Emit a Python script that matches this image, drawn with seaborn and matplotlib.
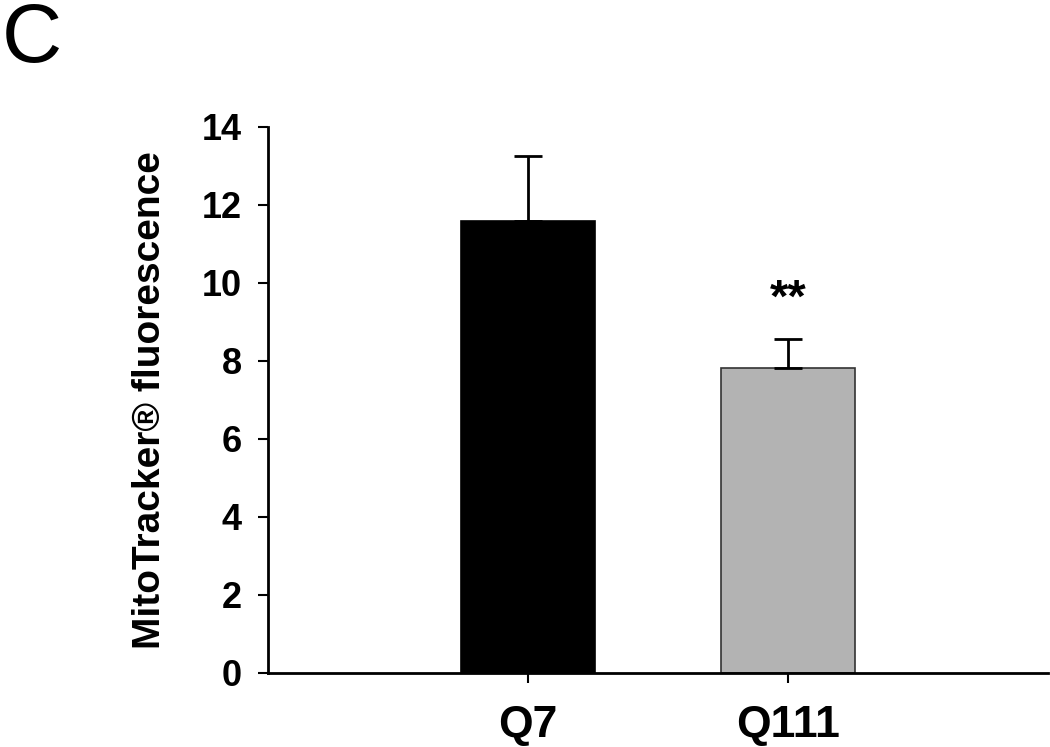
import matplotlib.pyplot as plt
import numpy as np
import pandas as pd
import seaborn as sns

# %% data

groups = ["Q7", "Q111"]
means = [11.6, 7.82]
sems = [1.66, 0.74]
bar_colors = ["#000000", "#b3b3b3"]
edge_colors = ["#000000", "#333333"]
stars = ["", "**"]

df = pd.DataFrame({"group": groups, "mean": means, "sem": sems})

# %% plot

sns.set_style("white", {"text.color": "black", "axes.labelcolor": "black",
                        "xtick.color": "black", "ytick.color": "black"})
plt.rcParams["font.family"] = ["Liberation Sans", "DejaVu Sans"]

fig = plt.figure(figsize=(10.5, 7.47), dpi=100)
ax = fig.add_axes([268 / 1050, 74 / 747, 780 / 1050, 546 / 747])

sns.barplot(data=df, x="group", y="mean", hue="group", palette=bar_colors,
            width=0.515, errorbar=None, legend=False, ax=ax)
for patch, ec in zip(ax.patches, edge_colors):
    patch.set_edgecolor(ec)
    patch.set_linewidth(1.2)

x = np.arange(len(groups))
ax.errorbar(x, df["mean"], yerr=[np.zeros(len(groups)), df["sem"]],
            fmt="none", ecolor="black", elinewidth=2, capsize=10, capthick=2,
            zorder=1)
for xi, m, s, st in zip(x, means, sems, stars):
    if st:
        ax.text(xi, m + s + 1.0, st, ha="center", va="center",
                fontsize=34, fontweight="bold", color="black")

ax.set_xlim(-1, 2)
ax.set_ylim(0, 14)
ax.set_yticks(np.arange(0, 15, 2))
ax.set_xlabel("")
ax.set_ylabel("MitoTracker® fluorescence", fontsize=28, fontweight="bold",
              labelpad=24, color="black")
ax.tick_params(axis="both", direction="out", length=7, width=1.5,
               colors="black", labelsize=26, left=True, bottom=True)
ax.tick_params(axis="y", pad=12)
ax.tick_params(axis="x", labelsize=32, pad=16)
for lab in ax.get_xticklabels() + ax.get_yticklabels():
    lab.set_fontweight("bold")
for side in ["top", "right"]:
    ax.spines[side].set_visible(False)
for side in ["left", "bottom"]:
    ax.spines[side].set_color("black")
    ax.spines[side].set_linewidth(2)

fig.text(0.002, 0.998, "C", fontsize=60, ha="left", va="top", color="black")

fig.savefig("out.png", facecolor="w", dpi=100)
